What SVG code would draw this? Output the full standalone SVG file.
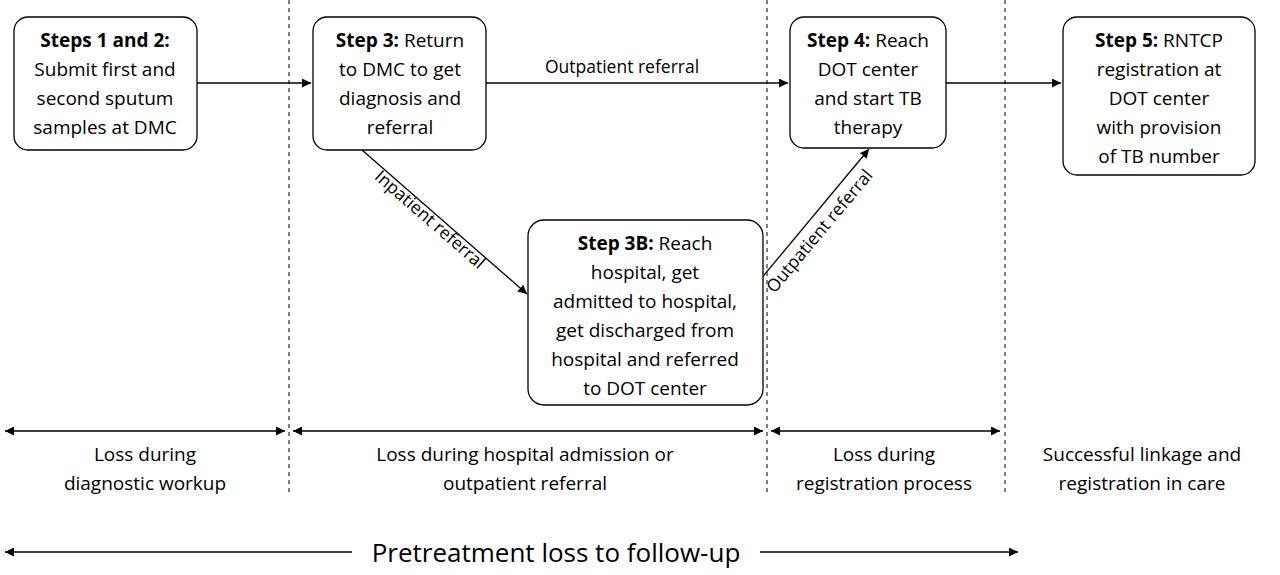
<svg xmlns="http://www.w3.org/2000/svg" width="1280" height="575" viewBox="0 0 1280 575">
<defs>
<marker id="ah" viewBox="0 0 10 10" refX="10" refY="5" markerWidth="9" markerHeight="9" markerUnits="userSpaceOnUse" orient="auto-start-reverse"><path d="M0,0 L10,5 L0,10 z" fill="#000"/></marker>
<style>
text{font-family:"Open Sans","Liberation Sans",sans-serif;fill:#000;font-size:19px;text-anchor:middle}
.box{fill:#fff;stroke:#000;stroke-width:1.3}
.ln{stroke:#000;stroke-width:1.3;fill:none}
.dash{stroke:#000;stroke-width:1;stroke-dasharray:4,4}
.b{font-weight:bold}
.sm{font-size:17.5px}
.big{font-size:26px}
</style>
</defs>
<rect width="1280" height="575" fill="#fff"/>
<g id="dividers">
<line class="dash" x1="289" y1="0" x2="289" y2="495"/>
<line class="dash" x1="767" y1="0" x2="767" y2="495"/>
<line class="dash" x1="1005" y1="0" x2="1005" y2="495"/>
</g>
<g id="connectors">
<line class="ln" x1="197" y1="83" x2="311" y2="83" marker-end="url(#ah)"/>
<line class="ln" x1="486" y1="83" x2="788" y2="83" marker-end="url(#ah)"/>
<line class="ln" x1="946" y1="83" x2="1061" y2="83" marker-end="url(#ah)"/>
<line class="ln" x1="362" y1="150" x2="527" y2="294" marker-end="url(#ah)"/>
<line class="ln" x1="750" y1="292" x2="869" y2="149" marker-end="url(#ah)"/>
<text class="sm" x="622" y="73">Outpatient referral</text>
<text class="sm" x="0" y="0" transform="translate(426,224) rotate(41)">Inpatient referral</text>
<text class="sm" x="0" y="0" transform="translate(824,235) rotate(-50)">Outpatient referral</text>
</g>
<g id="n1"><rect class="box" x="14" y="17" width="183" height="133" rx="14"/>
<text x="105" y="47"><tspan class="b">Steps 1 and 2:</tspan><tspan x="105" dy="29">Submit first and</tspan><tspan x="105" dy="29">second sputum</tspan><tspan x="105" dy="29">samples at DMC</tspan></text></g>
<g id="n2"><rect class="box" x="313" y="17" width="173" height="133" rx="14"/>
<text x="400" y="47"><tspan class="b">Step 3:</tspan> Return<tspan x="400" dy="29">to DMC to get</tspan><tspan x="400" dy="29">diagnosis and</tspan><tspan x="400" dy="29">referral</tspan></text></g>
<g id="n3"><rect class="box" x="790" y="17" width="156" height="131" rx="14"/>
<text x="868" y="47"><tspan class="b">Step 4:</tspan> Reach<tspan x="868" dy="29">DOT center</tspan><tspan x="868" dy="29">and start TB</tspan><tspan x="868" dy="29">therapy</tspan></text></g>
<g id="n4"><rect class="box" x="1063" y="17" width="192" height="158" rx="14"/>
<text x="1159" y="47"><tspan class="b">Step 5:</tspan> RNTCP<tspan x="1159" dy="29">registration at</tspan><tspan x="1159" dy="29">DOT center</tspan><tspan x="1159" dy="29">with provision</tspan><tspan x="1159" dy="29">of TB number</tspan></text></g>
<g id="n3b"><rect class="box" x="528" y="220" width="235" height="185" rx="16"/>
<text x="645" y="250"><tspan class="b">Step 3B:</tspan> Reach<tspan x="645" dy="29">hospital, get</tspan><tspan x="645" dy="29">admitted to hospital,</tspan><tspan x="645" dy="29">get discharged from</tspan><tspan x="645" dy="29">hospital and referred</tspan><tspan x="645" dy="29">to DOT center</tspan></text></g>
<g id="phases">
<line class="ln" x1="5" y1="431" x2="285" y2="431" marker-start="url(#ah)" marker-end="url(#ah)"/>
<line class="ln" x1="293" y1="431" x2="763" y2="431" marker-start="url(#ah)" marker-end="url(#ah)"/>
<line class="ln" x1="771" y1="431" x2="1000" y2="431" marker-start="url(#ah)" marker-end="url(#ah)"/>
<text x="145" y="461">Loss during<tspan x="145" dy="29">diagnostic workup</tspan></text>
<text x="525" y="461">Loss during hospital admission or<tspan x="525" dy="29">outpatient referral</tspan></text>
<text x="884" y="461">Loss during<tspan x="884" dy="29">registration process</tspan></text>
<text x="1142" y="461">Successful linkage and<tspan x="1142" dy="29">registration in care</tspan></text>
<line class="ln" x1="5" y1="552" x2="352" y2="552" marker-start="url(#ah)"/>
<line class="ln" x1="760" y1="552" x2="1018" y2="552" marker-end="url(#ah)"/>
<text class="big" x="556" y="562">Pretreatment loss to follow-up</text>
</g>
</svg>
